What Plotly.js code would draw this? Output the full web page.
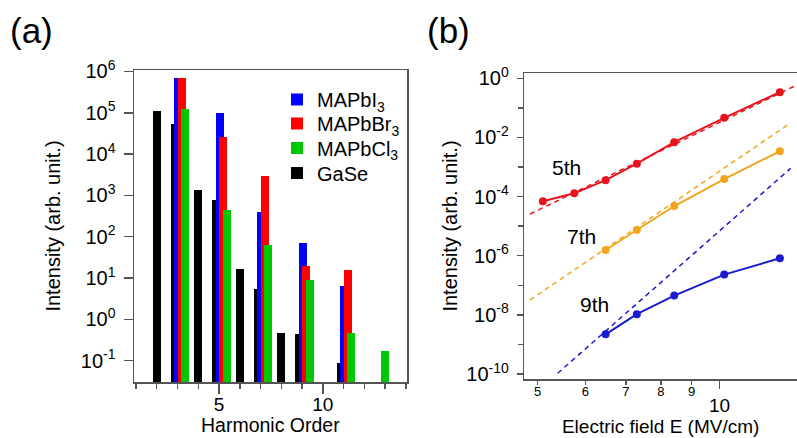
<!DOCTYPE html>
<html><head><meta charset="utf-8">
<script src="https://cdn.plot.ly/plotly-3.0.1.min.js"></script>
<style>html,body{margin:0;padding:0;background:#fff}#chart{width:797px;height:438px}</style>
</head><body><div id="chart"></div>
<script>
// ---------- Panel (a): harmonic intensities (log scale) ----------
const gaseOrders = [2, 3, 4, 5, 6, 7, 8, 9, 11];
const gaseValues = [1.12e5, 5.3e4, 1.33e3, 770, 16.3, 5.3, 0.47, 0.45, 0.086];
const mapbi3Orders = [3, 5, 7, 9, 11];
const mapbi3Values = [6.8e5, 9.7e4, 403, 72, 6.5];
const mapbbr3Orders = [3, 5, 7, 9, 11];
const mapbbr3Values = [6.8e5, 2.6e4, 2.9e3, 19.9, 15.6];
const mapbcl3Orders = [3, 5, 7, 9, 11, 13];
const mapbcl3Values = [1.24e5, 443, 62, 8.8, 0.47, 0.17];
const seriesNames = ['MAPbI<sub>3</sub>', 'MAPbBr<sub>3</sub>', 'MAPbCl<sub>3</sub>', 'GaSe'];
const aXTicks = [5, 10];
const aYExponents = [-1, 0, 1, 2, 3, 4, 5, 6];
const aXTitle = 'Harmonic Order';

// ---------- Panel (b): intensity vs field (log-log) ----------
const field5 = [5.1, 5.75, 6.48, 7.3, 8.42, 10.19, 12.6];
const int5 = [6.9e-5, 1.29e-4, 3.6e-4, 1.29e-3, 6.9e-3, 4.6e-2, 0.34];
const field7 = [6.48, 7.3, 8.42, 10.19, 12.6];
const int7 = [1.56e-6, 7.4e-6, 4.8e-5, 3.9e-4, 3.4e-3];
const field9 = [6.48, 7.3, 8.42, 10.19, 12.6];
const int9 = [2.2e-9, 1.05e-8, 4.5e-8, 2.3e-7, 8.2e-7];
// dashed power-law guide lines (end points)
const guide5Field = [4.856, 13.45];
const guide5Int = [2.58e-5, 0.593];
const guide7Field = [4.856, 13.10];
const guide7Int = [3.18e-8, 3.0e-2];
const guide9Field = [5.397, 13.13];
const guide9Int = [1.06e-10, 9.0e-4];
const orderLabels = ['5th', '7th', '9th'];
const bXTicks = [5, 6, 7, 8, 9];
const bXMajor = [10];
const bYExponents = [0, -2, -4, -6, -8, -10];
const bYMinorExponents = [-1, -3, -5, -7, -9];

// ---------- styling ----------
const W = 797, H = 438;
const FONT = 'Liberation Sans, Arial, Helvetica, sans-serif';
const AX = '#555';
const barColors = {I: '#0000FF', Br: '#FF0000', Cl: '#00C800', GaSe: '#000000'};
const lineColors = ['#E8141C', '#F2A61E', '#1A1ACF'];
const BAR_W = 0.38;
const groupOffset = {GaSe: -0.33, I: -0.15, Br: 0.01, Cl: 0.19};
const allOrderSets = [gaseOrders, mapbi3Orders, mapbbr3Orders, mapbcl3Orders];
function offsetsFor(orders, key) {
  // a lone bar at an order is centred, otherwise it takes its slot in the group
  return orders.map(n => {
    const count = allOrderSets.filter(s => s.includes(n)).length;
    return count > 1 ? groupOffset[key] : -BAR_W / 2;
  });
}
// one legend box per entry so that the rows sit where the reference has them
const legendRowsY = [99.5, 123.5, 148, 173];
const legendIds = ['legend', 'legend2', 'legend3', 'legend4'];
function barTrace(orders, values, key, name, row) {
  return {
    type: 'bar', x: orders, y: values, name: name,
    width: BAR_W, offset: offsetsFor(orders, key),
    marker: {color: barColors[key], line: {width: 0}},
    xaxis: 'x', yaxis: 'y', legend: legendIds[row], showlegend: true
  };
}
const sup = e => '10<sup>' + (e < 0 ? '-' + (-e) : e) + '</sup>';

const traces = [
  barTrace(gaseOrders, gaseValues, 'GaSe', seriesNames[3], 3),
  barTrace(mapbi3Orders, mapbi3Values, 'I', seriesNames[0], 0),
  barTrace(mapbbr3Orders, mapbbr3Values, 'Br', seriesNames[1], 1),
  barTrace(mapbcl3Orders, mapbcl3Values, 'Cl', seriesNames[2], 2),
];
const guides = [[guide5Field, guide5Int], [guide7Field, guide7Int], [guide9Field, guide9Int]];
guides.forEach((g, i) => traces.push({
  type: 'scatter', mode: 'lines', x: g[0], y: g[1], xaxis: 'x2', yaxis: 'y2',
  line: {color: lineColors[i], width: 1.5, dash: '5px,4px'}, showlegend: false, hoverinfo: 'skip'
}));
[[field5, int5], [field7, int7], [field9, int9]].forEach((d, i) => traces.push({
  type: 'scatter', mode: 'lines+markers', x: d[0], y: d[1], xaxis: 'x2', yaxis: 'y2',
  line: {color: lineColors[i], width: 2}, marker: {color: lineColors[i], size: 8},
  showlegend: false
}));

const labelPos = [[0.747, -3.0], [0.7708, -5.357], [0.7931, -7.656]];
const annotations = [
  {text: '(a)', xref: 'paper', yref: 'paper', x: 31.7 / W, y: 1 - 30.5 / H, xanchor: 'center', yanchor: 'middle', showarrow: false, font: {size: 35}},
  {text: '(b)', xref: 'paper', yref: 'paper', x: 448.3 / W, y: 1 - 30.5 / H, xanchor: 'center', yanchor: 'middle', showarrow: false, font: {size: 35}},
  {text: String(bXMajor[0]), xref: 'x2', yref: 'paper', x: Math.log10(bXMajor[0]), y: 1 - 405 / H, xanchor: 'center', yanchor: 'middle', showarrow: false, font: {size: 19}},
  // x title of panel (a), placed as in the reference (just above the bottom edge)
  {text: aXTitle, xref: 'x domain', yref: 'paper', x: 0.5, y: 1 - 437.5 / H, xanchor: 'center', yanchor: 'bottom', showarrow: false, font: {size: 19.5}},
];
orderLabels.forEach((t, i) => annotations.push({
  text: t, xref: 'x2', yref: 'y2', x: labelPos[i][0], y: labelPos[i][1],
  xanchor: 'center', yanchor: 'middle', showarrow: false, font: {size: 21}
}));

const layout = {
  width: W, height: H,
  margin: {l: 0, r: 0, t: 0, b: 0},
  paper_bgcolor: '#fff', plot_bgcolor: 'rgba(0,0,0,0)',
  font: {family: FONT, color: '#000', size: 20},
  barmode: 'overlay', bargap: 0,
  showlegend: true,
  xaxis: {
    domain: [134 / W, 407 / W], range: [0.904, 14.06], anchor: 'y',
    tickmode: 'array', tickvals: aXTicks, ticktext: aXTicks.map(String),
    ticks: 'outside', ticklen: 10, tickwidth: 1.5, tickcolor: AX,
    minor: {tickmode: 'linear', tick0: 0, dtick: 1, ticks: 'outside', ticklen: 5, tickwidth: 1.5, tickcolor: AX},
    showline: true, linecolor: AX, linewidth: 1.5, mirror: true,
    showgrid: false, zeroline: false, tickfont: {size: 19}, ticklabelstandoff: -5
  },
  yaxis: {
    domain: [1 - 382 / H, 1 - 70 / H], type: 'log', range: [-1.518, 6.036], anchor: 'x',
    tickmode: 'array', tickvals: aYExponents.map(e => Math.pow(10, e)), ticktext: aYExponents.map(sup),
    ticks: 'outside', ticklen: 9, tickwidth: 1.5, tickcolor: AX,
    showline: true, linecolor: AX, linewidth: 1.5, mirror: true,
    showgrid: false, zeroline: false, tickfont: {size: 20}, ticklabelstandoff: 4,
    title: {text: 'Intensity (arb. unit.)', font: {size: 20}, standoff: 15}
  },
  xaxis2: {
    domain: [524.3 / W, 1], type: 'log', range: [0.6768, 1.1288], anchor: 'y2',
    tickmode: 'array', tickvals: bXTicks, ticktext: bXTicks.map(String),
    ticks: 'outside', ticklen: 4, tickwidth: 1.5, tickcolor: AX,
    minor: {tickmode: 'array', tickvals: bXMajor, ticks: 'outside', ticklen: 8, tickwidth: 1.5, tickcolor: AX},
    showline: true, linecolor: AX, linewidth: 1.5, mirror: true,
    showgrid: false, zeroline: false, tickfont: {size: 13}, ticklabelstandoff: -4,
    title: {text: 'Electric field E (MV/cm)', font: {size: 19}, standoff: 21}
  },
  yaxis2: {
    domain: [1 - 379 / H, 1 - 73 / H], type: 'log', range: [-10.169, 0.179], anchor: 'x2',
    tickmode: 'array', tickvals: bYExponents.map(e => Math.pow(10, e)), ticktext: bYExponents.map(sup),
    ticks: 'outside', ticklen: 6, tickwidth: 1.5, tickcolor: AX,
    minor: {tickmode: 'array', tickvals: bYMinorExponents.map(e => Math.pow(10, e)), ticks: 'outside', ticklen: 5, tickwidth: 1.5, tickcolor: AX},
    showline: true, linecolor: AX, linewidth: 1.5, mirror: false,
    showgrid: false, zeroline: false, tickfont: {size: 20}, ticklabelstandoff: 4,
    title: {text: 'Intensity (arb. unit.)', font: {size: 20}, standoff: 3}
  },
  annotations: annotations
};
legendIds.forEach((id, i) => {
  layout[id] = {x: 277 / W, y: 1 - legendRowsY[i] / H, xanchor: 'left', yanchor: 'middle',
                bgcolor: 'rgba(0,0,0,0)', font: {size: 20}, itemclick: false};
});

Plotly.newPlot('chart', traces, layout, {staticPlot: true, displayModeBar: false});
</script>
</body></html>
